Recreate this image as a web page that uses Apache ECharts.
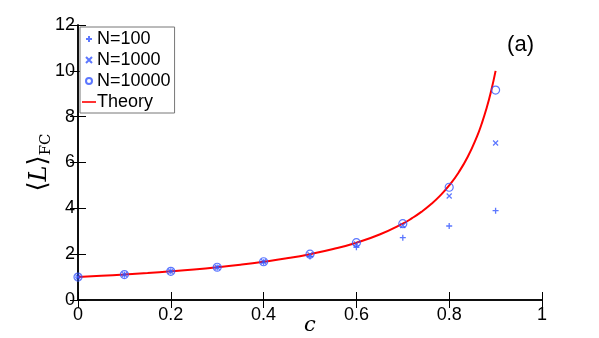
<!DOCTYPE html>
<html><head><meta charset="utf-8">
<script src="https://cdn.jsdelivr.net/npm/echarts@6/dist/echarts.min.js"></script>
<style>html,body{margin:0;padding:0;background:#fff}#c{width:599px;height:338px}</style>
</head><body><div id="c"></div>
<script>
const cValues = [0, 0.1, 0.2, 0.3, 0.4, 0.5, 0.6, 0.7, 0.8, 0.9];
const n100 = [1.0, 1.1, 1.25, 1.42, 1.65, 1.9, 2.3, 2.72, 3.23, 3.9];
const n1000 = [1.0, 1.11, 1.25, 1.43, 1.67, 1.98, 2.45, 3.25, 4.54, 6.85];
const n10000 = [1.0, 1.11, 1.25, 1.43, 1.67, 2.0, 2.5, 3.33, 4.92, 9.16];
const theoryC = [0, 0.05, 0.1, 0.15, 0.2, 0.25, 0.3, 0.35, 0.4, 0.45, 0.5, 0.55, 0.6, 0.65, 0.7, 0.72, 0.74, 0.76, 0.78, 0.8, 0.82, 0.84, 0.86, 0.87, 0.88, 0.89, 0.9];
const theoryL = [1, 1.053, 1.111, 1.176, 1.25, 1.333, 1.429, 1.538, 1.667, 1.818, 2, 2.222, 2.5, 2.857, 3.333, 3.571, 3.846, 4.167, 4.545, 5, 5.556, 6.25, 7.143, 7.692, 8.333, 9.091, 10];
const xTicks = [0, 0.2, 0.4, 0.6, 0.8, 1];
const yTicks = [0, 2, 4, 6, 8, 10, 12];

const blue = '#3355ff';
const pair = (xs, ys) => xs.map((x, i) => [x, ys[i]]);
const font = 'Liberation Sans, Arial, sans-serif';
const serif = 'DejaVu Serif, serif';
const plusPath = 'path://M0,-5 L0,5 M-5,0 L5,0';
const crossPath = 'path://M-5,-5 L5,5 M-5,5 L5,-5';
const chart = echarts.init(document.getElementById('c'), null, {renderer: 'canvas'});
const tickStyle = {show: true, inside: true, length: 8, lineStyle: {color: '#000', width: 1}};
const lineStyle = {show: true, lineStyle: {color: '#000', width: 1.5}};
chart.setOption({
  animation: false,
  backgroundColor: '#fff',
  grid: {left: 78, right: 57, top: 25, bottom: 38, outerBoundsMode: 'none', containLabel: false},
  title: {text: '(a)', right: 65, top: 34, padding: 0, textStyle: {fontFamily: font, fontSize: 22, fontWeight: 'normal', color: '#000'}},
  legend: {
    orient: 'vertical', left: 80, top: 27, itemWidth: 14, itemHeight: 6, itemGap: 3,
    padding: [3, 4, 2, 2], backgroundColor: '#fff', borderColor: '#777', borderWidth: 1, borderRadius: 0,
    textStyle: {fontFamily: font, fontSize: 18, color: '#000', padding: [0, 0, 0, -4]},
    data: [
      {name: 'N=100', icon: plusPath},
      {name: 'N=1000', icon: crossPath},
      {name: 'N=10000', icon: 'circle'},
      {name: 'Theory', icon: 'path://M0,0 L14,0 L14,1.6 L0,1.6 Z', itemStyle: {color: '#ff0000', borderWidth: 0}}
    ]
  },
  xAxis: [{
    type: 'value', min: 0, max: 1, interval: 0.2,
    axisLine: lineStyle, axisTick: tickStyle, splitLine: {show: false},
    axisLabel: {fontFamily: font, fontSize: 18, color: '#000', margin: 6,
      customValues: xTicks, formatter: v => String(v)},
    name: 'c', nameLocation: 'middle', nameGap: 15, nameMoveOverlap: false,
    nameTextStyle: {fontFamily: serif, fontStyle: 'italic', fontSize: 21, color: '#000'}
  }, {
    type: 'value', min: 0, max: 1, interval: 0.2, position: 'top',
    axisLine: lineStyle, axisTick: tickStyle, axisLabel: {show: false}, splitLine: {show: false}
  }],
  yAxis: [{
    type: 'value', min: 0, max: 12, interval: 2,
    axisLine: lineStyle, axisTick: tickStyle, splitLine: {show: false},
    axisLabel: {fontFamily: font, fontSize: 18, color: '#000', margin: 3, customValues: yTicks},
    name: '{a|⟨}{b|L}{a|⟩}{s|FC}', nameLocation: 'middle', nameGap: 24, nameRotate: 90, nameMoveOverlap: false,
    nameTextStyle: {
      rich: {
        a: {fontFamily: serif, fontSize: 26, color: '#000'},
        b: {fontFamily: serif, fontStyle: 'italic', fontSize: 24, color: '#000'},
        s: {fontFamily: serif, fontSize: 15, color: '#000', verticalAlign: 'bottom', padding: [14, 0, 0, 0]}
      }
    }
  }, {
    type: 'value', min: 0, max: 12, interval: 2, position: 'right',
    axisLine: lineStyle, axisTick: tickStyle, axisLabel: {show: false}, splitLine: {show: false}
  }],
  series: [
    {name: 'N=100', type: 'scatter', data: pair(cValues, n100),
      symbol: plusPath, symbolSize: 6,
      itemStyle: {color: 'rgba(0,0,0,0)', borderColor: blue, borderWidth: 1.3}},
    {name: 'N=1000', type: 'scatter', data: pair(cValues, n1000),
      symbol: crossPath, symbolSize: 5,
      itemStyle: {color: 'rgba(0,0,0,0)', borderColor: blue, borderWidth: 1.2}},
    {name: 'N=10000', type: 'scatter', data: pair(cValues, n10000),
      symbol: 'circle', symbolSize: 8,
      itemStyle: {color: 'rgba(0,0,0,0)', borderColor: blue, borderWidth: 1.2}},
    {name: 'Theory', type: 'line', data: pair(theoryC, theoryL), smooth: true,
      symbol: 'none', lineStyle: {color: '#ff0000', width: 2}, itemStyle: {color: '#ff0000'}, z: 1}
  ]
});
</script></body></html>
